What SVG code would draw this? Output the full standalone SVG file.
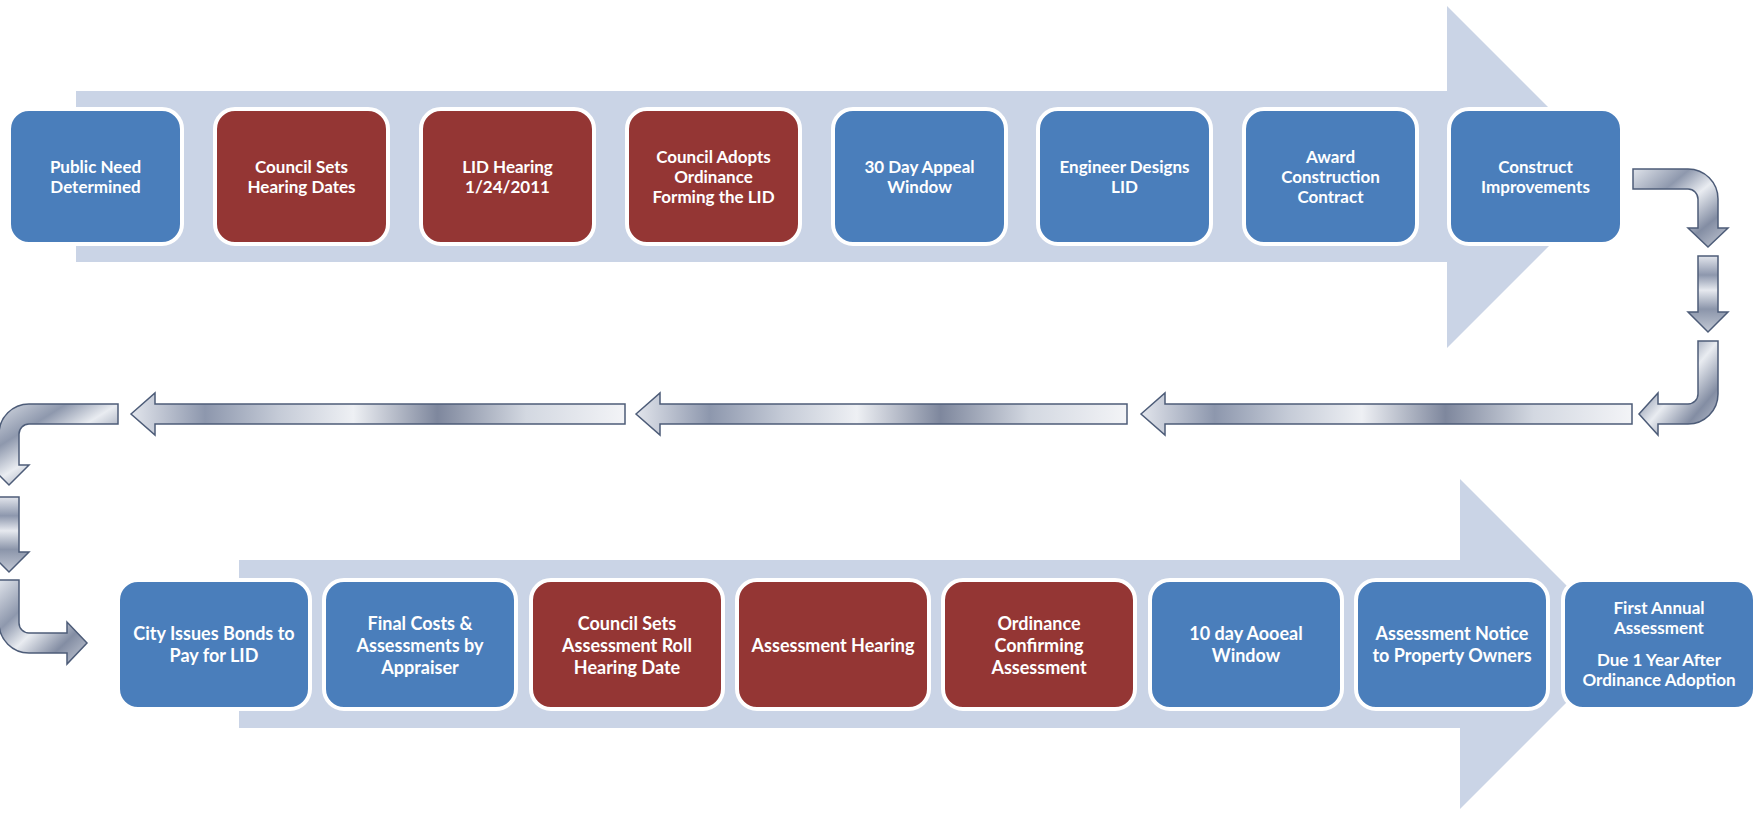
<svg xmlns="http://www.w3.org/2000/svg" width="1759" height="814" viewBox="0 0 1759 814">
<defs>
<style>
.band{fill:#cad4e6}
.box{stroke:#ffffff;stroke-width:4}
.blue{fill:#4a7ebb}
.red{fill:#943634}
.t{font-family:Lato,"Open Sans","Liberation Sans",sans-serif;font-weight:bold;fill:#ffffff;text-anchor:middle}
.s17{font-size:17px}
.s18{font-size:18px}
.conn path{stroke:#4d5c78;stroke-width:1.5;stroke-linejoin:miter}
</style>
<linearGradient id="gh" x1="0" y1="0" x2="1" y2="0">
<stop offset="0" stop-color="#e2e5ec"/>
<stop offset="0.15" stop-color="#8d97ad"/>
<stop offset="0.3" stop-color="#c5cbd7"/>
<stop offset="0.45" stop-color="#eef0f4"/>
<stop offset="0.62" stop-color="#7e879d"/>
<stop offset="0.8" stop-color="#d3d8e1"/>
<stop offset="1" stop-color="#f3f4f7"/>
</linearGradient>
<linearGradient id="gv" x1="0" y1="0" x2="0" y2="1">
<stop offset="0" stop-color="#e2e5ec"/>
<stop offset="0.25" stop-color="#8d97ad"/>
<stop offset="0.45" stop-color="#e6e9ef"/>
<stop offset="0.7" stop-color="#8b95aa"/>
<stop offset="1" stop-color="#c3c9d5"/>
</linearGradient>
<linearGradient id="gd" x1="0" y1="0" x2="1" y2="1">
<stop offset="0" stop-color="#dfe3ea"/>
<stop offset="0.3" stop-color="#8e98ad"/>
<stop offset="0.5" stop-color="#e9ecf1"/>
<stop offset="0.75" stop-color="#838da3"/>
<stop offset="1" stop-color="#c8cdd8"/>
</linearGradient>
</defs>
<rect width="1759" height="814" fill="#ffffff"/>

<g id="bands">
<path class="band" d="M76,91 L1447,91 L1447,6 L1618,177 L1447,348 L1447,262 L76,262 Z"/>
<path class="band" d="M239,560 L1460,560 L1460,479 L1625,644 L1460,809 L1460,728 L239,728 Z"/>
</g>

<g id="connectors" class="conn">
<path fill="url(#gd)" d="M1633,169 L1688,169 A30,30 0 0 1 1718,199 L1718,228 L1728,228 L1708,247 L1688,228 L1698,228 L1698,199 A10,10 0 0 0 1688,189 L1633,189 Z"/>
<path fill="url(#gv)" d="M1698,256 L1718,256 L1718,312 L1728,312 L1708,332 L1688,312 L1698,312 Z"/>
<path fill="url(#gd)" d="M1698,341 L1718,341 L1718,394 A30,30 0 0 1 1688,424 L1658,424 L1658,435 L1639,414 L1658,393 L1658,404 L1688,404 A10,10 0 0 0 1698,394 Z"/>
<path fill="url(#gh)" d="M1141,414 L1165,393 L1165,404 L1632,404 L1632,424 L1165,424 L1165,435 Z"/>
<path fill="url(#gh)" d="M636,414 L660,393 L660,404 L1127,404 L1127,424 L660,424 L660,435 Z"/>
<path fill="url(#gh)" d="M131,414 L155,393 L155,404 L625,404 L625,424 L155,424 L155,435 Z"/>
<path fill="url(#gd)" d="M118,404 L29,404 A30,30 0 0 0 -1,434 L-1,465 L-11,465 L9,485 L29,465 L19,465 L19,434 A10,10 0 0 1 29,424 L118,424 Z"/>
<path fill="url(#gv)" d="M-1,497 L19,497 L19,552 L29,552 L9,572 L-11,552 L-1,552 Z"/>
<path fill="url(#gd)" d="M-1,580 L19,580 L19,623 A10,10 0 0 0 29,633 L67,633 L67,622 L87,643 L67,664 L67,653 L29,653 A30,30 0 0 1 -1,623 Z"/>
</g>

<g id="n1"><rect class="box blue" x="9" y="109" width="173" height="135" rx="20"/>
<text class="t s17" x="95.5" y="173">Public Need</text><text class="t s17" x="95.5" y="193">Determined</text></g>
<g id="n2"><rect class="box red" x="215" y="109" width="173" height="135" rx="20"/>
<text class="t s17" x="301.5" y="173">Council Sets</text><text class="t s17" x="301.5" y="193">Hearing Dates</text></g>
<g id="n3"><rect class="box red" x="421" y="109" width="173" height="135" rx="20"/>
<text class="t s17" x="507.5" y="173">LID Hearing</text><text class="t s17" x="507.5" y="193">1/24/2011</text></g>
<g id="n4"><rect class="box red" x="627" y="109" width="173" height="135" rx="20"/>
<text class="t s17" x="713.5" y="163">Council Adopts</text><text class="t s17" x="713.5" y="183">Ordinance</text><text class="t s17" x="713.5" y="203">Forming the LID</text></g>
<g id="n5"><rect class="box blue" x="833" y="109" width="173" height="135" rx="20"/>
<text class="t s17" x="919.5" y="173">30 Day Appeal</text><text class="t s17" x="919.5" y="193">Window</text></g>
<g id="n6"><rect class="box blue" x="1038" y="109" width="173" height="135" rx="20"/>
<text class="t s17" x="1124.5" y="173">Engineer Designs</text><text class="t s17" x="1124.5" y="193">LID</text></g>
<g id="n7"><rect class="box blue" x="1244" y="109" width="173" height="135" rx="20"/>
<text class="t s17" x="1330.5" y="163">Award</text><text class="t s17" x="1330.5" y="183">Construction</text><text class="t s17" x="1330.5" y="203">Contract</text></g>
<g id="n8"><rect class="box blue" x="1449" y="109" width="173" height="135" rx="20"/>
<text class="t s17" x="1535.5" y="173">Construct</text><text class="t s17" x="1535.5" y="193">Improvements</text></g>

<g id="n9"><rect class="box blue" x="118" y="580" width="192" height="129" rx="20"/>
<text class="t s18" x="214" y="639.5">City Issues Bonds to</text><text class="t s18" x="214" y="661.5">Pay for LID</text></g>
<g id="n10"><rect class="box blue" x="324" y="580" width="192" height="129" rx="20"/>
<text class="t s18" x="420" y="629.5">Final Costs &amp;</text><text class="t s18" x="420" y="651.5">Assessments by</text><text class="t s18" x="420" y="673.5">Appraiser</text></g>
<g id="n11"><rect class="box red" x="531" y="580" width="192" height="129" rx="20"/>
<text class="t s18" x="627" y="629.5">Council Sets</text><text class="t s18" x="627" y="651.5">Assessment Roll</text><text class="t s18" x="627" y="673.5">Hearing Date</text></g>
<g id="n12"><rect class="box red" x="737" y="580" width="192" height="129" rx="20"/>
<text class="t s18" x="833" y="651.5">Assessment Hearing</text></g>
<g id="n13"><rect class="box red" x="943" y="580" width="192" height="129" rx="20"/>
<text class="t s18" x="1039" y="629.5">Ordinance</text><text class="t s18" x="1039" y="651.5">Confirming</text><text class="t s18" x="1039" y="673.5">Assessment</text></g>
<g id="n14"><rect class="box blue" x="1150" y="580" width="192" height="129" rx="20"/>
<text class="t s18" x="1246" y="639.5">10 day Aooeal</text><text class="t s18" x="1246" y="661.5">Window</text></g>
<g id="n15"><rect class="box blue" x="1356" y="580" width="192" height="129" rx="20"/>
<text class="t s18" x="1452" y="639.5">Assessment Notice</text><text class="t s18" x="1452" y="661.5">to Property Owners</text></g>
<g id="n16"><rect class="box blue" x="1563" y="580" width="192" height="129" rx="20"/>
<text class="t s17" x="1659" y="614">First Annual</text><text class="t s17" x="1659" y="634">Assessment</text><text class="t s17" x="1659" y="666">Due 1 Year After</text><text class="t s17" x="1659" y="686">Ordinance Adoption</text></g>
</svg>
